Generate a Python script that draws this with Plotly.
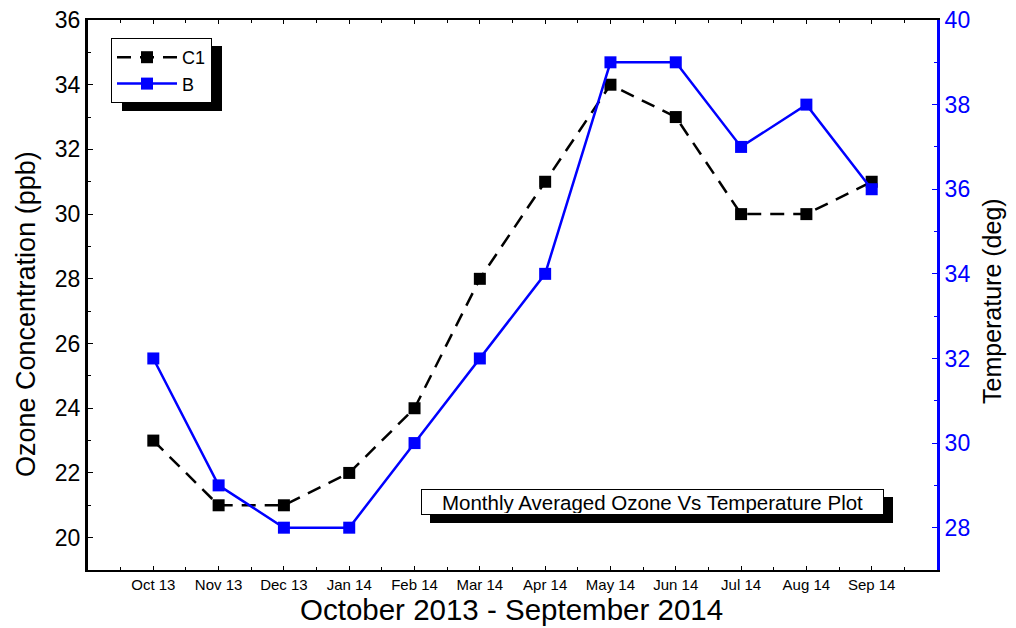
import plotly.graph_objects as go

months = ["Oct 13", "Nov 13", "Dec 13", "Jan 14", "Feb 14", "Mar 14",
          "Apr 14", "May 14", "Jun 14", "Jul 14", "Aug 14", "Sep 14"]
ozone_c1 = [23, 21, 21, 22, 24, 28, 31, 34, 33, 30, 30, 31]
temp_b = [32, 29, 28, 28, 30, 32, 34, 39, 39, 37, 38, 36]

idx = list(range(len(months)))
FONT = "Liberation Sans, Arial, sans-serif"
BLUE = "#0000ff"

fig = go.Figure()
fig.add_trace(go.Scatter(
    x=idx, y=ozone_c1, name="C1", mode="lines+markers",
    line=dict(color="black", width=2.5, dash="14px,9px"),
    marker=dict(symbol="square", size=12, color="black"),
    yaxis="y"))
fig.add_trace(go.Scatter(
    x=idx, y=temp_b, name="B", mode="lines+markers",
    line=dict(color=BLUE, width=2.5),
    marker=dict(symbol="square", size=12, color=BLUE),
    yaxis="y2"))

# page coordinates (browser body has an 8px default margin)
OFF = 8
L, R, T, B = 88, 937, 20, 570
W, H = 1016 - OFF, 628 - OFF
pw, ph = R - L, B - T

def px(x):
    return (x - L) / pw

def py(y):
    return (B - y) / ph

fig.update_layout(
    width=W, height=H,
    margin=dict(l=L - OFF, r=W - (R - OFF), t=T - OFF, b=H - (B - OFF),
                autoexpand=False),
    paper_bgcolor="white", plot_bgcolor="white",
    font=dict(family=FONT, color="black"),
    showlegend=True,
    legend=dict(x=px(111), y=py(38), xanchor="left", yanchor="top",
                bgcolor="white", bordercolor="black", borderwidth=1,
                font=dict(size=18, family=FONT), itemwidth=60,
                tracegroupgap=0),
    xaxis=dict(
        range=[-1, 12], tickmode="array", tickvals=idx, ticktext=months,
        showgrid=False, zeroline=False, automargin=False,
        showline=True, linecolor="black", linewidth=2, mirror="ticks",
        ticks="inside", ticklen=4, tickcolor="black",
        minor=dict(dtick=0.5, tick0=0, ticks="inside", ticklen=3, tickcolor="black"),
        tickfont=dict(size=15, family=FONT, color="black"),
    ),
    yaxis=dict(
        range=[19, 36], tick0=20, dtick=2, automargin=False,
        ticklabeloverflow="allow",
        showgrid=False, zeroline=False,
        showline=True, linecolor="black", linewidth=3,
        ticks="inside", ticklen=5, tickcolor="black",
        minor=dict(dtick=1, tick0=19, ticks="inside", ticklen=3, tickcolor="black"),
        tickfont=dict(size=23, family=FONT, color="black"),
    ),
    yaxis2=dict(
        range=[27, 40], tick0=28, dtick=2, overlaying="y", side="right",
        ticklabeloverflow="allow",
        showgrid=False, zeroline=False, automargin=False,
        showline=True, linecolor=BLUE, linewidth=3,
        ticks="inside", ticklen=5, tickcolor=BLUE,
        minor=dict(dtick=1, tick0=27, ticks="inside", ticklen=3, tickcolor=BLUE),
        tickfont=dict(size=23, family=FONT, color=BLUE),
    ),
    shapes=[
        # legend shadow
        dict(type="rect", xref="paper", yref="paper",
             x0=px(122), x1=px(222), y0=py(111), y1=py(46),
             fillcolor="black", line=dict(width=0), layer="above"),
        # annotation shadow
        dict(type="rect", xref="paper", yref="paper",
             x0=px(430), x1=px(893), y0=py(523), y1=py(497),
             fillcolor="black", line=dict(width=0), layer="above"),
    ],
    annotations=[
        dict(text="Monthly Averaged Ozone Vs Temperature Plot",
             xref="paper", yref="paper", x=px(652.5), y=py(502),
             xanchor="center", yanchor="middle", showarrow=False,
             font=dict(size=20.5, family=FONT, color="black"),
             bgcolor="white", bordercolor="black", borderwidth=1,
             borderpad=1, width=459, height=22),
        dict(text="Ozone Concentration (ppb)", xref="paper", yref="paper",
             x=px(26), y=py(314), textangle=-90, showarrow=False,
             xanchor="center", yanchor="middle",
             font=dict(size=27, family=FONT, color="black")),
        dict(text="Temperature (deg)", xref="paper", yref="paper",
             x=px(992), y=py(301), textangle=-90, showarrow=False,
             xanchor="center", yanchor="middle",
             font=dict(size=25, family=FONT, color="black")),
        dict(text="October 2013 - September 2014", xref="paper", yref="paper",
             x=px(511), y=py(609.5), showarrow=False,
             xanchor="center", yanchor="middle",
             font=dict(size=29.5, family=FONT, color="black")),
    ],
)

fig.write_html("out.html")
